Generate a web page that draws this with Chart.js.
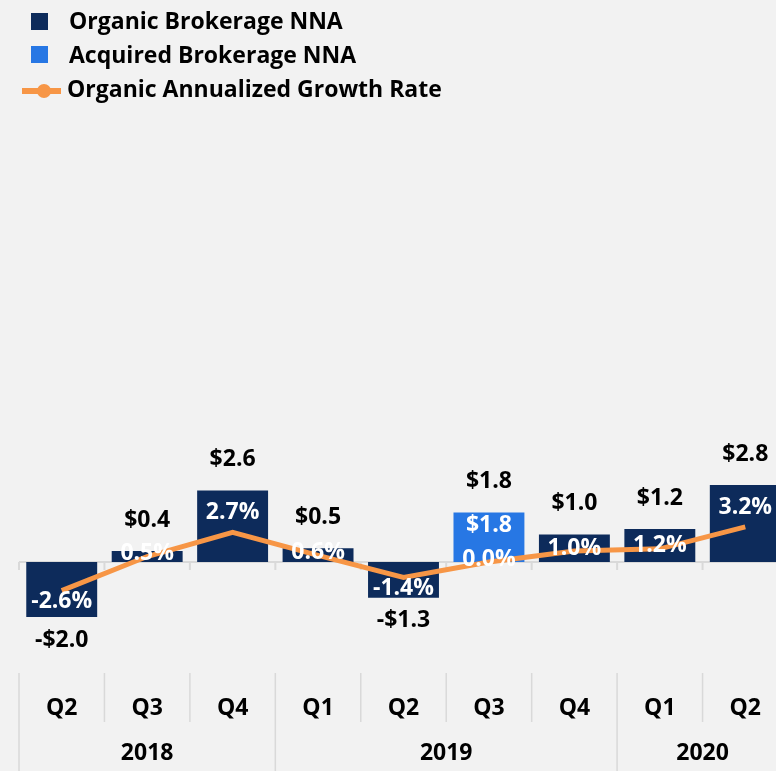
<!DOCTYPE html>
<html>
<head>
<meta charset="utf-8">
<script src="https://cdn.jsdelivr.net/npm/chart.js@4/dist/chart.umd.min.js"></script>
<style>
  html, body { margin: 0; padding: 0; background: #f2f2f2; overflow: hidden; }
  #wrap { width: 790px; height: 771px; }
</style>
</head>
<body>
<div id="wrap"><canvas id="chart" width="790" height="771"></canvas></div>
<script>
const quarters = ["Q2", "Q3", "Q4", "Q1", "Q2", "Q3", "Q4", "Q1", "Q2"]
const years = ["2018", "2018", "2018", "2019", "2019", "2019", "2019", "2020", "2020"]
const organicNNA = [-2.0, 0.4, 2.6, 0.5, -1.3, 0.0, 1.0, 1.2, 2.8]
const acquiredNNA = [null, null, null, null, null, 1.8, null, null, null]
const growthRate = [-2.6, 0.5, 2.7, 0.6, -1.4, 0.0, 1.0, 1.2, 3.2]

const NAVY = "#0d2b5b"
const BLUE = "#2777e4"
const ORANGE = "#f79646"
const GRID = "#d9d9d9"
const FONT = "bold 23px 'Open Sans'"

const money = (v) => (v < 0 ? "-$" : "$") + Math.abs(v).toFixed(1)

// legend, axis line, category rows and data labels
const decor = {
  id: "decor",
  beforeDatasetsDraw(chart) {
    const { ctx, chartArea, scales } = chart
    const y0 = scales.y.getPixelForValue(0)
    const catW = (chartArea.right - chartArea.left) / quarters.length
    ctx.save()
    ctx.strokeStyle = GRID
    ctx.lineWidth = 2
    ctx.beginPath()
    ctx.moveTo(chartArea.left, y0)
    ctx.lineTo(chartArea.right, y0)
    for (let k = 0; k <= quarters.length; k++) {
      const x = chartArea.left + k * catW
      ctx.moveTo(x, y0)
      ctx.lineTo(x, y0 + 8)
    }
    ctx.stroke()
    ctx.restore()
  },
  afterDatasetsDraw(chart) {
    const { ctx, scales } = chart
    const organicMeta = chart.getDatasetMeta(0)
    const acquiredMeta = chart.getDatasetMeta(1)
    const lineMeta = chart.getDatasetMeta(2)
    ctx.save()
    ctx.font = FONT
    ctx.textAlign = "center"
    ctx.textBaseline = "middle"

    organicNNA.forEach((v, i) => {
      const x = organicMeta.data[i].x
      const total = v + (acquiredNNA[i] || 0)
      ctx.fillStyle = "#000"
      if (total >= 0) {
        ctx.fillText(money(total), x, scales.y.getPixelForValue(total) - 31)
      } else {
        ctx.fillText(money(total), x, scales.y.getPixelForValue(total) + 23)
      }
      if (acquiredNNA[i]) {
        ctx.fillStyle = "#fff"
        ctx.fillText(money(acquiredNNA[i]), acquiredMeta.data[i].x, acquiredMeta.data[i].y + 13)
      }
    })

    growthRate.forEach((v, i) => {
      const pt = lineMeta.data[i]
      const barTop = scales.y.getPixelForValue(organicNNA[i] + (acquiredNNA[i] || 0))
      let y
      if (v < 0) y = pt.y + 11
      else if (v > 2) y = barTop + 22
      else y = pt.y - 3
      ctx.fillStyle = "#fff"
      ctx.fillText(v.toFixed(1) + "%", pt.x, y)
    })
    ctx.restore()
  },
  afterDraw(chart) {
    const { ctx, chartArea } = chart
    const catW = (chartArea.right - chartArea.left) / quarters.length
    ctx.save()

    // category separators
    ctx.strokeStyle = GRID
    ctx.lineWidth = 1.5
    ctx.beginPath()
    for (let k = 0; k <= quarters.length; k++) {
      const x = chartArea.left + k * catW
      const yearEdge = k === 0 || k === quarters.length || years[k] !== years[k - 1]
      ctx.moveTo(x, 673)
      ctx.lineTo(x, yearEdge ? 771 : 722)
    }
    ctx.stroke()

    ctx.font = FONT
    ctx.fillStyle = "#000"
    ctx.textAlign = "center"
    ctx.textBaseline = "middle"
    quarters.forEach((q, i) => {
      ctx.fillText(q, chartArea.left + (i + 0.5) * catW, 708)
    })
    let start = 0
    for (let k = 1; k <= years.length; k++) {
      if (k === years.length || years[k] !== years[start]) {
        ctx.fillText(years[start], chartArea.left + ((start + k) / 2) * catW, 753)
        start = k
      }
    }

    // legend
    const ds = chart.data.datasets
    ctx.textAlign = "left"
    ctx.fillStyle = NAVY
    ctx.fillRect(31, 13, 17, 17)
    ctx.fillStyle = BLUE
    ctx.fillRect(31, 46, 17, 17)
    ctx.strokeStyle = ORANGE
    ctx.lineWidth = 6
    ctx.beginPath()
    ctx.moveTo(22, 91)
    ctx.lineTo(61, 91)
    ctx.stroke()
    ctx.fillStyle = ORANGE
    ctx.beginPath()
    ctx.arc(44, 91, 7, 0, Math.PI * 2)
    ctx.fill()
    ctx.fillStyle = "#000"
    ctx.fillText(ds[0].label, 69, 22)
    ctx.fillText(ds[1].label, 69, 56)
    ctx.fillText(ds[2].label, 67, 90)
    ctx.restore()
  }
}

new Chart(document.getElementById("chart"), {
  type: "bar",
  data: {
    labels: quarters.map((q, i) => years[i] + " " + q),
    datasets: [
      {
        label: "Organic Brokerage NNA",
        data: organicNNA,
        backgroundColor: NAVY,
        yAxisID: "y",
        order: 2,
        barPercentage: 0.83,
        categoryPercentage: 1
      },
      {
        label: "Acquired Brokerage NNA",
        data: acquiredNNA,
        backgroundColor: BLUE,
        yAxisID: "y",
        order: 1,
        barPercentage: 0.83,
        categoryPercentage: 1
      },
      {
        type: "line",
        label: "Organic Annualized Growth Rate",
        data: growthRate,
        yAxisID: "y1",
        borderColor: ORANGE,
        borderWidth: 5,
        pointRadius: 0,
        tension: 0,
        order: 0
      }
    ]
  },
  options: {
    responsive: false,
    animation: false,
    devicePixelRatio: 1,
    layout: { padding: { left: 19, right: 2, top: 100, bottom: 121 } },
    plugins: {
      legend: { display: false },
      tooltip: { enabled: false }
    },
    scales: {
      x: { display: false, stacked: true },
      y: { display: false, stacked: true, min: -3.2, max: 16.8 },
      y1: { display: false, stacked: false, min: -8, max: 42 }
    }
  },
  plugins: [decor]
})
</script>
</body>
</html>
